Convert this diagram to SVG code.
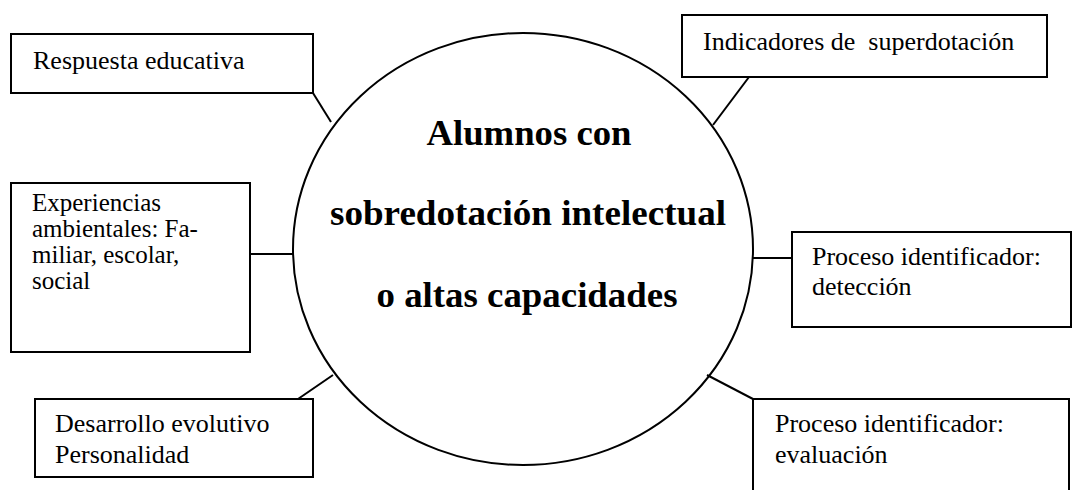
<svg xmlns="http://www.w3.org/2000/svg" width="1084" height="490" viewBox="0 0 1084 490">
<style>
.box{fill:#fff;stroke:#000;stroke-width:2}
.t{font-family:"Liberation Serif","Times New Roman",serif;font-size:26px;fill:#000}
.s{font-size:25px}
.b{font-family:"Liberation Serif","Times New Roman",serif;font-size:35px;font-weight:bold;fill:#000;text-anchor:middle}
.c{stroke:#000;stroke-width:2;fill:none}
</style>
<rect width="1084" height="490" fill="#fff"/>
<g id="connectors">
<line class="c" x1="313" y1="93" x2="331" y2="122"/>
<line class="c" x1="749" y1="77" x2="713" y2="125"/>
<line class="c" x1="250" y1="254" x2="293" y2="254"/>
<line class="c" x1="753" y1="258" x2="792" y2="258"/>
<line class="c" x1="298" y1="399" x2="333" y2="375"/>
<line class="c" x1="707" y1="375" x2="753" y2="399"/>
</g>
<g id="center">
<ellipse class="c" cx="523" cy="249" rx="230" ry="216"/>
<text class="b" x="529" y="145" textLength="205" lengthAdjust="spacingAndGlyphs">Alumnos con</text>
<text class="b" x="528" y="225" textLength="396" lengthAdjust="spacingAndGlyphs">sobredotación intelectual</text>
<text class="b" x="527" y="307" textLength="301" lengthAdjust="spacingAndGlyphs">o altas capacidades</text>
</g>
<g id="respuesta">
<rect class="box" x="11" y="34" width="302" height="59"/>
<text class="t" x="33" y="69">Respuesta educativa</text>
</g>
<g id="indicadores">
<rect class="box" x="682" y="15" width="365" height="62"/>
<text class="t" x="703" y="50" xml:space="preserve">Indicadores de  superdotación</text>
</g>
<g id="experiencias">
<rect class="box" x="11" y="183" width="239" height="169"/>
<text class="t s" x="32" y="211">Experiencias</text>
<text class="t s" x="32" y="237">ambientales: Fa-</text>
<text class="t s" x="32" y="263">miliar, escolar,</text>
<text class="t s" x="32" y="289">social</text>
</g>
<g id="deteccion">
<rect class="box" x="792" y="232" width="279" height="95"/>
<text class="t" x="812" y="265">Proceso identificador:</text>
<text class="t" x="812" y="295">detección</text>
</g>
<g id="desarrollo">
<rect class="box" x="35" y="399" width="278" height="78"/>
<text class="t" x="55" y="432">Desarrollo evolutivo</text>
<text class="t" x="55" y="463">Personalidad</text>
</g>
<g id="evaluacion">
<path class="box" d="M753 495 V399 H1069 V495"/>
<text class="t" x="775" y="432">Proceso identificador:</text>
<text class="t" x="775" y="463">evaluación</text>
</g>
</svg>
